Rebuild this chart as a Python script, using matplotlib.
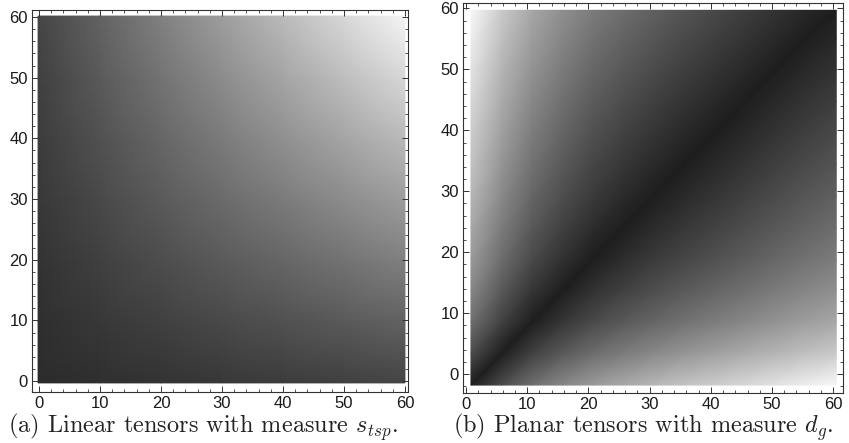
import numpy as np
import matplotlib
matplotlib.use("Agg")
import matplotlib.pyplot as plt
import matplotlib.tri as mtri
from matplotlib.ticker import MultipleLocator

plt.rcParams["mathtext.fontset"] = "cm"

# (a) s_tsp for linear tensors, sampled every 10 units (rows: y = 0..60, cols: x = 0..60)
lin_axis = [0, 10, 20, 30, 40, 50, 60]
lin_stsp = [
    [0.170, 0.187, 0.203, 0.220, 0.237, 0.253, 0.270],
    [0.187, 0.220, 0.253, 0.286, 0.319, 0.352, 0.385],
    [0.203, 0.253, 0.302, 0.352, 0.401, 0.451, 0.500],
    [0.220, 0.286, 0.352, 0.418, 0.483, 0.549, 0.615],
    [0.237, 0.319, 0.401, 0.483, 0.566, 0.648, 0.730],
    [0.253, 0.352, 0.451, 0.549, 0.648, 0.746, 0.845],
    [0.270, 0.385, 0.500, 0.615, 0.730, 0.845, 0.960],
]

# (b) d_g for planar tensors: both axes index the same family of tensors,
# given by each tensor's position along the geodesic (0 = first, 1 = last)
plan_x = [0.8, 5.8, 10.75, 15.7, 20.7, 25.7, 30.65, 35.6, 40.6, 45.6, 50.55, 55.5, 60.5]
plan_y = [-1.8, 3.4, 8.55, 13.7, 18.9, 24.1, 29.25, 34.4, 39.6, 44.8, 49.95, 55.1, 59.7]
geo_pos = [0.0, 0.21, 0.37, 0.48, 0.57, 0.64, 0.70, 0.755, 0.805, 0.855, 0.905, 0.955, 1.0]

tick_vals = [0, 10, 20, 30, 40, 50, 60]
captions = [r"(a) Linear tensors with measure $s_{tsp}$.",
            r"(b) Planar tensors with measure $d_g$."]

# grey ramp for the distance panel
g_lo, g_hi = 0.12, 0.97


def grid_triangulation(xs, ys):
    X, Y = np.meshgrid(xs, ys)
    nx, ny = len(xs), len(ys)
    tris = []
    for j in range(ny - 1):
        for i in range(nx - 1):
            a = j * nx + i
            b = a + 1
            c = a + nx
            d = c + 1
            # split each cell along its lower-left -> upper-right diagonal
            tris.append([a, b, d])
            tris.append([a, d, c])
    return mtri.Triangulation(X.ravel(), Y.ravel(), np.array(tris))


def style_axes(ax, xlim, ylim):
    ax.set_xlim(*xlim)
    ax.set_ylim(*ylim)
    ax.set_facecolor("white")
    ax.xaxis.set_minor_locator(MultipleLocator(2))
    ax.yaxis.set_minor_locator(MultipleLocator(2))
    ax.set_xticks(tick_vals)
    ax.set_yticks(tick_vals)
    ax.tick_params(which="both", direction="in", top=True, right=True,
                   color="#333333", labelcolor="#1a1a1a", labelsize=12)
    ax.tick_params(which="major", length=4, width=0.7, pad=3)
    ax.tick_params(which="minor", length=2, width=0.6)
    for lbl in ax.get_xticklabels() + ax.get_yticklabels():
        lbl.set_fontfamily("Liberation Sans")
    for s in ax.spines.values():
        s.set_color("#333333")
        s.set_linewidth(0.8)


fig = plt.figure(figsize=(8.49, 4.43), dpi=100)

# panel (a)
ax1 = fig.add_axes([32 / 849, 51 / 443, 376 / 849, 382 / 443])
lin_x = np.linspace(-0.15, 60.0, len(lin_axis))
lin_y = np.linspace(-0.3, 60.15, len(lin_axis))
tri1 = grid_triangulation(lin_x, lin_y)
ax1.tripcolor(tri1, np.asarray(lin_stsp).ravel(), shading="gouraud",
              cmap="gray", vmin=0, vmax=1, rasterized=True)
style_axes(ax1, (-1.15, 60.5), (-1.8, 61.15))

# panel (b)
ax2 = fig.add_axes([463 / 849, 50 / 443, 380 / 849, 390 / 443])
tri2 = grid_triangulation(plan_x, plan_y)
gp = np.asarray(geo_pos)
dg = np.abs(np.subtract.outer(gp, gp))
ax2.tripcolor(tri2, (g_lo + (g_hi - g_lo) * dg).ravel(), shading="gouraud",
              cmap="gray", vmin=0, vmax=1, rasterized=True)
style_axes(ax2, (-0.5, 61.6), (-3.1, 60.9))

fig.text(203 / 849, 10 / 443, captions[0], ha="center", va="baseline",
         fontsize=17.5, family="cmr10", color="#222222")
fig.text(643 / 849, 10 / 443, captions[1], ha="center", va="baseline",
         fontsize=17.5, family="cmr10", color="#222222")

fig.savefig("out.png", dpi=100)
